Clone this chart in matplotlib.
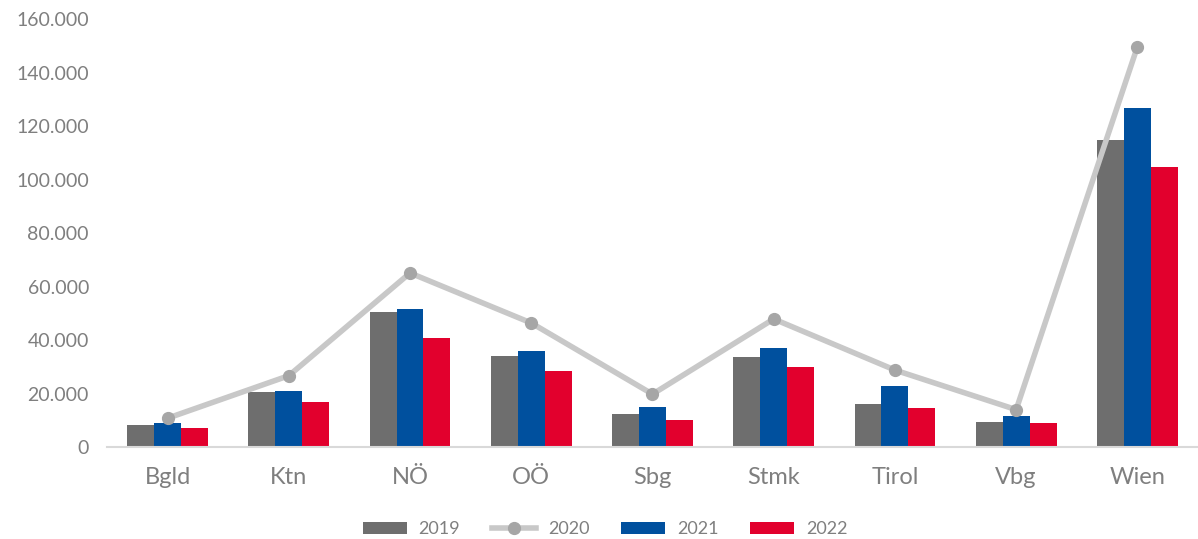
import numpy as np
import matplotlib
matplotlib.use("Agg")
import matplotlib.pyplot as plt
from matplotlib.ticker import FuncFormatter

plt.rcParams['font.family'] = ['Lato', 'DejaVu Sans']

regions = ["Bgld", "Ktn", "NÖ", "OÖ", "Sbg", "Stmk", "Tirol", "Vbg", "Wien"]
v2019 = [8400, 20600, 50700, 34200, 12600, 33900, 16200, 9600, 114800]
v2020 = [10900, 26800, 65200, 46500, 19900, 48000, 28900, 14100, 149800]
v2021 = [9000, 20900, 51900, 36100, 15100, 37000, 23000, 11800, 126700]
v2022 = [7300, 16900, 41000, 28600, 10100, 30000, 14600, 9200, 104900]

grey = "#6e6e6e"
blue = "#00509e"
red = "#e2002d"
txt = "#7f7f7f"

fig = plt.figure(figsize=(11.98, 5.39), dpi=100)
ax = fig.add_axes([0.0893, 0.170, 0.9107, 0.794])

x = np.arange(len(regions))
w = 0.222
b19 = ax.bar(x - w, v2019, w, color=grey, label="2019", zorder=2)
b21 = ax.bar(x, v2021, w, color=blue, label="2021", zorder=2)
b22 = ax.bar(x + w, v2022, w, color=red, label="2022", zorder=2)
l20, = ax.plot(x, v2020, color="#c8c8c8", lw=4, marker="o", ms=8.5,
               mfc="#a6a6a6", mec="#a6a6a6", label="2020", zorder=3)

ax.set_xlim(-0.5, len(regions) - 0.5)
ax.set_ylim(0, 160000)
ax.set_yticks(np.arange(0, 160001, 20000))
ax.yaxis.set_major_formatter(FuncFormatter(lambda v, p: f"{int(v):,}".replace(",", ".")))
ax.set_xticks(x)
ax.set_xticklabels(regions)

for s in ["top", "right", "left"]:
    ax.spines[s].set_visible(False)
ax.spines["bottom"].set_color("#d9d9d9")
ax.spines["bottom"].set_linewidth(1.5)
ax.tick_params(axis="y", length=0, labelsize=14, labelcolor=txt, pad=13)
ax.tick_params(axis="x", length=0, labelsize=17, labelcolor=txt, pad=14)

leg = fig.legend([b19, l20, b21, b22], ["2019", "2020", "2021", "2022"], loc="center",
                 bbox_to_anchor=(0.505, 0.018), ncol=4, frameon=False,
                 fontsize=13, handlelength=2.45, handleheight=0.7,
                 handletextpad=0.65, columnspacing=1.75)
for t in leg.get_texts():
    t.set_color(txt)

fig.savefig("out.png", dpi=100)
